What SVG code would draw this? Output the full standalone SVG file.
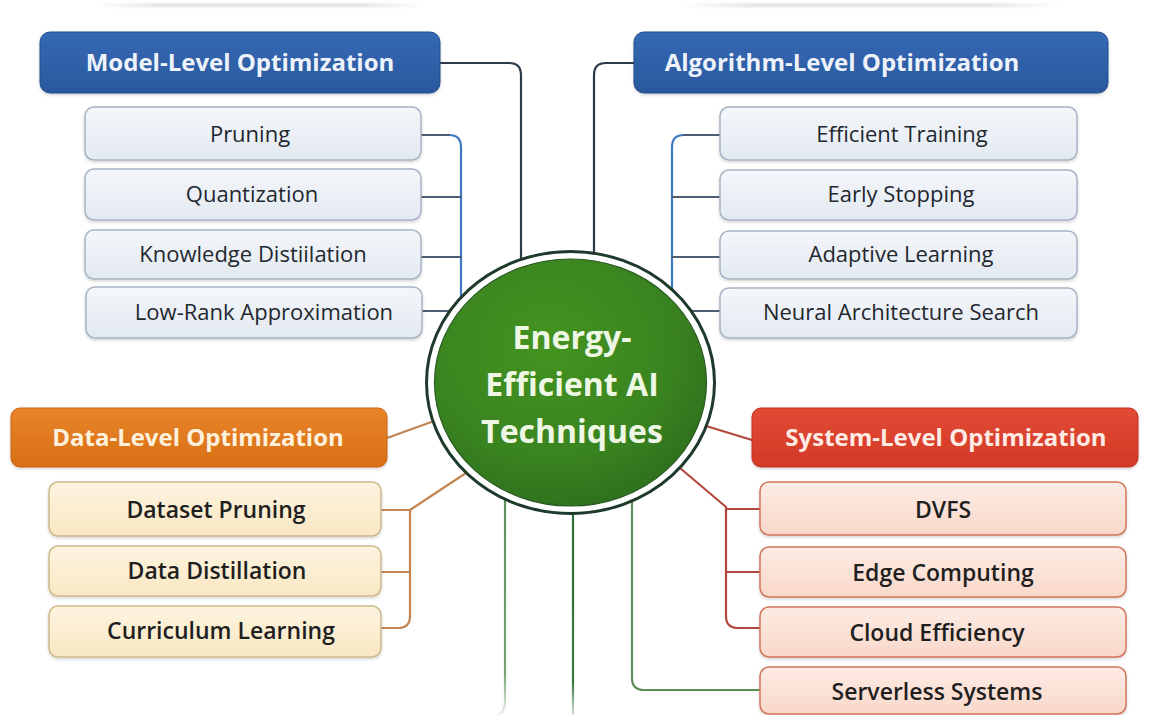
<svg xmlns="http://www.w3.org/2000/svg" width="1153" height="715" viewBox="0 0 1153 715">
  <defs>
    <style>
      .hdr-text { font-family: "Open Sans", "Noto Sans", sans-serif; font-weight: 700; font-size: 24px; text-anchor: middle; }
      .item-text { font-family: "Open Sans", "Noto Sans", sans-serif; text-anchor: middle; fill: #23272e; }
      .blue-item { font-weight: 500; font-size: 22px; }
      .warm-item { font-weight: 600; font-size: 23px; fill: #1f1f1f; }
      .blue-box { fill: url(#gBlueBox); stroke: #a7b4c4; stroke-width: 1.5; }
      .data-box { fill: url(#gDataBox); stroke: #cdb88c; stroke-width: 1.5; }
      .sys-box { fill: url(#gSysBox); stroke: #cf765d; stroke-width: 1.5; }
      .conn { fill: none; stroke-width: 2.2; stroke-linecap: round; stroke-linejoin: round; }
      .navy { stroke: #2c3a4c; }
      .blue { stroke: #3f78c4; }
      .slate { stroke: #4d5d72; }
      .amber { stroke: #c38450; }
      .rust { stroke: #b3493c; }
      .center-text { font-family: "Open Sans", "Noto Sans", sans-serif; font-weight: 700; font-size: 32px; text-anchor: middle; fill: #eef6e4; }
    </style>
    <linearGradient id="gBlueHdr" x1="0" y1="0" x2="0" y2="1">
      <stop offset="0" stop-color="#3569b4"/>
      <stop offset="1" stop-color="#2a589e"/>
    </linearGradient>
    <linearGradient id="gDataHdr" x1="0" y1="0" x2="0" y2="1">
      <stop offset="0" stop-color="#e8842a"/>
      <stop offset="1" stop-color="#d96f14"/>
    </linearGradient>
    <linearGradient id="gSysHdr" x1="0" y1="0" x2="0" y2="1">
      <stop offset="0" stop-color="#e34a34"/>
      <stop offset="1" stop-color="#d23a27"/>
    </linearGradient>
    <linearGradient id="gBlueBox" x1="0" y1="0" x2="0" y2="1">
      <stop offset="0" stop-color="#f4f7fb"/>
      <stop offset="1" stop-color="#e3e9f1"/>
    </linearGradient>
    <linearGradient id="gDataBox" x1="0" y1="0" x2="0" y2="1">
      <stop offset="0" stop-color="#fdf4df"/>
      <stop offset="1" stop-color="#f9e7c3"/>
    </linearGradient>
    <linearGradient id="gSysBox" x1="0" y1="0" x2="0" y2="1">
      <stop offset="0" stop-color="#fdebe3"/>
      <stop offset="1" stop-color="#f9d8ca"/>
    </linearGradient>
    <radialGradient id="gCore" cx="0.42" cy="0.35" r="0.75">
      <stop offset="0" stop-color="#44931f"/>
      <stop offset="0.6" stop-color="#3a8420"/>
      <stop offset="1" stop-color="#2b6a1c"/>
    </radialGradient>
    <linearGradient id="gFadeLine" x1="0" y1="0" x2="1" y2="0">
      <stop offset="0" stop-color="#9a9a9a" stop-opacity="0"/>
      <stop offset="0.2" stop-color="#9a9a9a" stop-opacity="0.45"/>
      <stop offset="0.8" stop-color="#9a9a9a" stop-opacity="0.45"/>
      <stop offset="1" stop-color="#9a9a9a" stop-opacity="0"/>
    </linearGradient>
    <linearGradient id="gGreenFade" gradientUnits="userSpaceOnUse" x1="0" y1="500" x2="0" y2="715">
      <stop offset="0" stop-color="#5a925a"/>
      <stop offset="0.8" stop-color="#76a474"/>
      <stop offset="1" stop-color="#76a474" stop-opacity="0.15"/>
    </linearGradient>
    <linearGradient id="gGreenDarkFade" gradientUnits="userSpaceOnUse" x1="0" y1="500" x2="0" y2="715">
      <stop offset="0" stop-color="#2f6a38"/>
      <stop offset="0.85" stop-color="#3d7544"/>
      <stop offset="1" stop-color="#3d7544" stop-opacity="0.2"/>
    </linearGradient>
    <filter id="soft" x="-5%" y="-5%" width="110%" height="130%">
      <feDropShadow dx="0" dy="1.5" stdDeviation="1.5" flood-color="#000" flood-opacity="0.18"/>
    </filter>
    <filter id="haze" x="-5%" y="-200%" width="110%" height="500%">
      <feGaussianBlur stdDeviation="1.4"/>
    </filter>
  </defs>

  <rect width="1153" height="715" fill="#ffffff"/>

  <!-- faint rules along the top edge -->
  <g id="top-rules" filter="url(#haze)">
    <rect x="95" y="4" width="330" height="2.5" fill="url(#gFadeLine)"/>
    <rect x="680" y="4" width="380" height="2.5" fill="url(#gFadeLine)"/>
  </g>

  <!-- connectors -->
  <g id="connectors">
    <!-- model level -->
    <path class="conn navy" d="M440,63 H509 Q521,63 521,75 V262"/>
    <path class="conn blue" d="M449,135 Q461,135 461,147 V300"/>
    <path class="conn slate" d="M421,135 H449"/>
    <path class="conn slate" d="M421,197 H461"/>
    <path class="conn slate" d="M421,257 H461"/>
    <path class="conn slate" d="M422,311 H455"/>
    <!-- algorithm level -->
    <path class="conn navy" d="M634,63 H606 Q594,63 594,75 V256"/>
    <path class="conn blue" d="M684,135 Q672,135 672,147 V292"/>
    <path class="conn slate" d="M720,135 H684"/>
    <path class="conn slate" d="M720,197 H672"/>
    <path class="conn slate" d="M720,257 H672"/>
    <path class="conn slate" d="M720,311 H688"/>
    <!-- data level -->
    <path class="conn amber" d="M387,438 L434,421"/>
    <path class="conn amber" d="M466,473 L410,510 V616 Q410,628 398,628 H381"/>
    <path class="conn amber" d="M381,510 H410"/>
    <path class="conn amber" d="M381,572 H410"/>
    <!-- system level -->
    <path class="conn rust" d="M706,426 L752,440"/>
    <path class="conn rust" d="M680,468 L726,507 V616 Q726,628 738,628 H760"/>
    <path class="conn rust" d="M726,509 H760"/>
    <path class="conn rust" d="M726,572 H760"/>
    <!-- trunks running down from the core -->
    <path class="conn" stroke="url(#gGreenFade)" d="M505,498 V702 Q505,712 497,716"/>
    <path class="conn" stroke="url(#gGreenDarkFade)" d="M573,505 V716"/>
    <path class="conn" stroke="#5c8e58" d="M632,498 V678 Q632,690 644,690 H760"/>
  </g>

  <!-- Model-Level Optimization -->
  <g id="model-level">
    <rect x="40" y="32" width="400" height="61" rx="10" fill="url(#gBlueHdr)" stroke="#244d8a" stroke-width="1" filter="url(#soft)"/>
    <text class="hdr-text" x="240" y="71" fill="#eef3fb">Model-Level Optimization</text>
  </g>
  <g id="pruning">
    <rect class="blue-box" x="85" y="107" width="336" height="53" rx="9" filter="url(#soft)"/>
    <text class="item-text blue-item" x="250" y="142">Pruning</text>
  </g>
  <g id="quantization">
    <rect class="blue-box" x="85" y="169" width="336" height="51" rx="9" filter="url(#soft)"/>
    <text class="item-text blue-item" x="252" y="202">Quantization</text>
  </g>
  <g id="knowledge-distillation">
    <rect class="blue-box" x="85" y="230" width="336" height="49" rx="9" filter="url(#soft)"/>
    <text class="item-text blue-item" x="253" y="262">Knowledge Distiilation</text>
  </g>
  <g id="low-rank">
    <rect class="blue-box" x="86" y="287" width="336" height="51" rx="9" filter="url(#soft)"/>
    <text class="item-text blue-item" x="264" y="320">Low-Rank Approximation</text>
  </g>

  <!-- Algorithm-Level Optimization -->
  <g id="algorithm-level">
    <rect x="634" y="32" width="474" height="61" rx="10" fill="url(#gBlueHdr)" stroke="#244d8a" stroke-width="1" filter="url(#soft)"/>
    <text class="hdr-text" x="842" y="71" fill="#eef3fb">Algorithm-Level Optimization</text>
  </g>
  <g id="efficient-training">
    <rect class="blue-box" x="720" y="107" width="357" height="53" rx="9" filter="url(#soft)"/>
    <text class="item-text blue-item" x="902" y="142">Efficient Training</text>
  </g>
  <g id="early-stopping">
    <rect class="blue-box" x="720" y="170" width="357" height="50" rx="9" filter="url(#soft)"/>
    <text class="item-text blue-item" x="901" y="202">Early Stopping</text>
  </g>
  <g id="adaptive-learning">
    <rect class="blue-box" x="720" y="231" width="357" height="48" rx="9" filter="url(#soft)"/>
    <text class="item-text blue-item" x="901" y="262">Adaptive Learning</text>
  </g>
  <g id="nas">
    <rect class="blue-box" x="720" y="288" width="357" height="50" rx="9" filter="url(#soft)"/>
    <text class="item-text blue-item" x="901" y="320">Neural Architecture Search</text>
  </g>

  <!-- Data-Level Optimization -->
  <g id="data-level">
    <rect x="11" y="408" width="376" height="59" rx="9" fill="url(#gDataHdr)" stroke="#c8650f" stroke-width="1" filter="url(#soft)"/>
    <text class="hdr-text" x="198" y="446" fill="#fdf1de">Data-Level Optimization</text>
  </g>
  <g id="dataset-pruning">
    <rect class="data-box" x="49" y="482" width="332" height="54" rx="9" filter="url(#soft)"/>
    <text class="item-text warm-item" x="216" y="518">Dataset Pruning</text>
  </g>
  <g id="data-distillation">
    <rect class="data-box" x="49" y="546" width="332" height="50" rx="9" filter="url(#soft)"/>
    <text class="item-text warm-item" x="217" y="579">Data Distillation</text>
  </g>
  <g id="curriculum-learning">
    <rect class="data-box" x="49" y="606" width="332" height="51" rx="9" filter="url(#soft)"/>
    <text class="item-text warm-item" x="221" y="639">Curriculum Learning</text>
  </g>

  <!-- System-Level Optimization -->
  <g id="system-level">
    <rect x="752" y="408" width="386" height="59" rx="9" fill="url(#gSysHdr)" stroke="#bf3120" stroke-width="1" filter="url(#soft)"/>
    <text class="hdr-text" x="946" y="446" fill="#fdebe4">System-Level Optimization</text>
  </g>
  <g id="dvfs">
    <rect class="sys-box" x="760" y="482" width="366" height="53" rx="9" filter="url(#soft)"/>
    <text class="item-text warm-item" x="943" y="518">DVFS</text>
  </g>
  <g id="edge-computing">
    <rect class="sys-box" x="760" y="547" width="366" height="50" rx="9" filter="url(#soft)"/>
    <text class="item-text warm-item" x="943" y="581">Edge Computing</text>
  </g>
  <g id="cloud-efficiency">
    <rect class="sys-box" x="760" y="607" width="366" height="50" rx="9" filter="url(#soft)"/>
    <text class="item-text warm-item" x="937" y="641">Cloud Efficiency</text>
  </g>
  <g id="serverless-systems">
    <rect class="sys-box" x="760" y="667" width="366" height="47" rx="9" filter="url(#soft)"/>
    <text class="item-text warm-item" x="937" y="700">Serverless Systems</text>
  </g>

  <!-- central node -->
  <g id="core">
    <ellipse cx="570.5" cy="382.5" rx="144" ry="131" fill="#ffffff" stroke="#1f3a2b" stroke-width="3"/>
    <ellipse cx="570.5" cy="382.5" rx="136" ry="123.5" fill="url(#gCore)" stroke="#2a5a24" stroke-width="1.2"/>
    <text class="center-text" x="572" y="349">Energy-</text>
    <text class="center-text" x="572" y="396">Efficient AI</text>
    <text class="center-text" x="572" y="443">Techniques</text>
  </g>
</svg>
